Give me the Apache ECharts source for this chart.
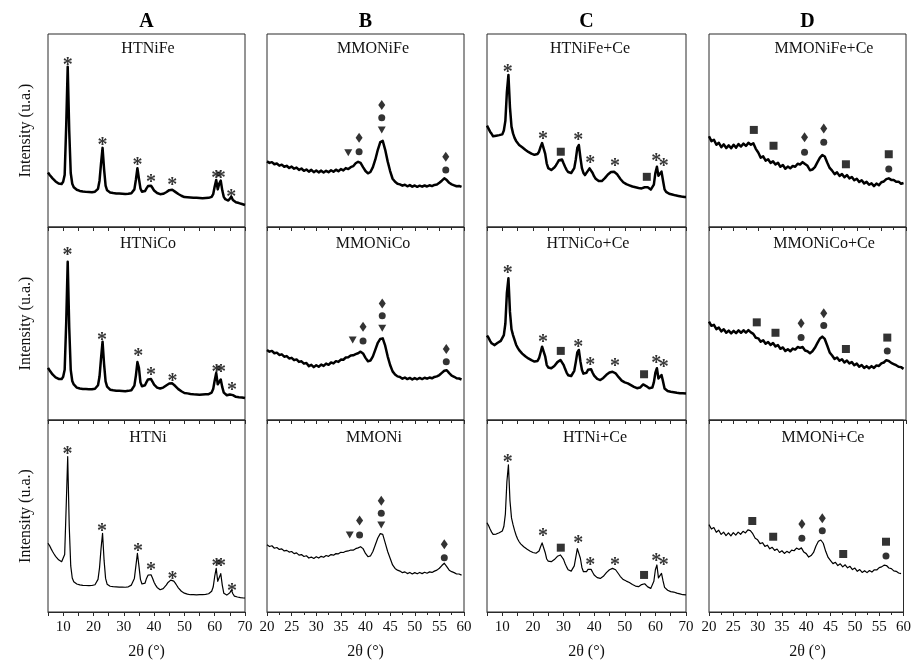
<!DOCTYPE html>
<html><head><meta charset="utf-8">
<script src="https://cdn.jsdelivr.net/npm/echarts@6/dist/echarts.min.js"></script>
<style>html,body{margin:0;padding:0;background:#fff}#c{width:914px;height:662px}</style>
</head><body><div id="c"></div>
<script>
// ---- 2θ sampling grids ----
const X_HT = [5,5.5,6,6.5,7,7.5,8,8.5,9,9.5,10,10.5,11,11.5,12,12.5,13,13.5,14,14.5,15,15.5,16,16.5,17,17.5,18,18.5,19,19.5,20,20.5,21,21.5,22,22.5,23,23.5,24,24.5,25,25.5,26,26.5,27,27.5,28,28.5,29,29.5,30,30.5,31,31.5,32,32.5,33,33.5,34,34.5,35,35.5,36,36.5,37,37.5,38,38.5,39,39.5,40,40.5,41,41.5,42,42.5,43,43.5,44,44.5,45,45.5,46,46.5,47,47.5,48,48.5,49,49.5,50,50.5,51,51.5,52,52.5,53,53.5,54,54.5,55,55.5,56,56.5,57,57.5,58,58.5,59,59.5,60,60.5,61,61.5,62,62.5,63,63.5,64,64.5,65,65.5,66,66.5,67,67.5,68,68.5,69,69.5,70];
const X_MMO = [20,20.5,21,21.5,22,22.5,23,23.5,24,24.5,25,25.5,26,26.5,27,27.5,28,28.5,29,29.5,30,30.5,31,31.5,32,32.5,33,33.5,34,34.5,35,35.5,36,36.5,37,37.5,38,38.5,39,39.5,40,40.5,41,41.5,42,42.5,43,43.5,44,44.5,45,45.5,46,46.5,47,47.5,48,48.5,49,49.5,50,50.5,51,51.5,52,52.5,53,53.5,54,54.5,55,55.5,56,56.5,57,57.5,58,58.5,59,59.5];

// ---- intensities (a.u., 0-100 of panel) ----
const HTNiFe = [28.2,27.1,26.4,25.2,24.8,23.6,23.3,22.5,22.9,22.3, 23.4,27,52,83,50,28,22.4,20.6,20.1,19.3, 19.6,18.7,19.1,18.4,18.9,18.2,18.8,18.1,18.6,18, 18.5,18.3,18.9,19.8,24,33,41,30,21.5,19, 18.6,17.9,18.3,17.6,18,17.4,17.9,17.3,17.8,17.2, 17.7,17.1,17.6,17.2,17.8,17.5,18.2,19.5,24.5,30.5, 25,20,18.3,17.8,18.6,20,21.2,21.9,21.4,20.2, 18.9,18.3,17.6,17.4,17,17.3,17.2,17.7,18,18.6, 19.1,19.4,19.3,18.8,18.2,17.6,17.1,16.5,16.2,15.6, 15.5,15.1,15.4,14.9,15.3,14.8,15.2,14.7,15.1,14.6, 15,14.5,14.9,14.6,15,14.7,15.1,15,15.6,17, 21,24.4,19.5,22.5,24,19,15.6,14.4,14,13.7, 14.4,15.6,14,13.1,12.8,12.5,12.4,12,11.9,11.6, 11.4];
const HTNiCo = [27,25.8,24.9,23.6,23.2,22.1,22,21.3,21.8,21.2, 22.4,26,50,82,48,26,20.2,18.4,17.6,16.8, 17.1,16.3,16.8,16.1,16.7,16,16.6,15.9,16.5,15.9, 16.4,16.2,16.9,18,22.5,32,40.6,29,20,17.3, 16.5,15.7,16.1,15.4,15.9,15.2,15.8,15.1,15.6,15, 15.5,14.9,15.5,15.1,15.7,15.4,16.2,17.8,23,30, 27,19.5,17.5,17.1,18,19.6,21,21.8,21.2,19.8, 18.3,17.5,16.8,16.6,16.3,16.6,16.8,17.3,17.9,18.5, 18.9,19.1,19,18.4,17.6,16.8,16,15.3,14.9,14.2, 14,13.5,13.8,13.2,13.5,12.9,13.3,12.8,13.2,12.7, 13.1,12.8,13.2,12.9,13.3,13,13.4,13.5,14.2,16, 20.5,24.4,18.5,19.5,21,17,14.2,13.3,12.8,12.6, 13.2,14,12.9,12.2,12,11.9,11.8,11.6,11.7,11.5, 11.4];
const HTNi = [35.8,34.6,33,31.5,30.2,29,28,27.2,26.6,26.2, 26.5,30,55,80.9,45,24,17.7,15.8,15,14.6, 14.4,14.1,14.2,13.9,14.1,13.8,14,13.7,13.9,13.8, 14,14.2,15,17,23,33,41,27,17.5,14.5, 13.8,13.4,13.5,13.2,13.4,13.1,13.3,13,13.2,13, 13.2,12.9,13.2,13.1,13.5,14,15,17.5,24,30.6, 24,17,14.6,14,15,17.5,19.2,20,19.4,17.6, 15.5,14,12.8,12,11.6,11.8,12.2,13,14,15.2, 16.1,16.6,16.7,16.1,15,13.8,12.6,11.6,10.8,10.2, 9.8,9.5,9.3,9.1,9,8.9,9,8.8,8.9,8.8, 9,8.9,9.1,9,9.2,9.3,9.5,9.9,10.8,13, 18.5,22.7,16,18,20,14,9.8,9,8.8,9, 10,11.5,9.5,8.3,8,7.8,7.7,7.5,7.4,7.3, 7.3];
const HTNiFe_Ce = [52.5,51,49.4,48.3,47,46.6,47.3,46.8,47.6,47.2, 48,50,55,70,78.8,62,52,48.5,46.2,44.6, 43.7,42.5,42.4,41.3,41,40,40.1,38.9,39,38, 38.3,37.4,37.8,37.8,39,41.5,43.5,44.2,38,33, 30.5,29.8,29.5,30.2,30.8,31.9,33.2,34.6,35.6,35, 33,31.2,29.6,28.5,27.8,28,28.8,30.5,35,41, 42.5,36,30.5,28,26.9,27.8,29.2,30.4,30,28, 26.2,25,24.2,23.8,23.5,23.8,24.5,25.3,26.2,27.2, 28,28.5,28.7,28.6,28.2,27.3,26.2,25,24,23.2, 22.6,22.2,21.8,21.6,21.3,21,20.8,20.6,20.5,20.2, 20.1,20,20.3,20.6,20.8,20.6,20,19.4,19.6,22, 28,31.2,26.5,27.5,28.7,24,19.5,18.2,17.6,17.2, 16.9,16.8,16.6,16.4,16.3,16.1,16,15.8,15.7,15.6, 15.6];
const HTNiCo_Ce = [43.8,42.6,41,39.8,39,38.8,39.6,40,40.6,41, 41.8,44,50,66,73.4,56,47,44,41.5,39, 37.5,36.2,35.2,34.4,33.6,33,32.5,31.9,31.5,31, 30.8,30.3,30.3,30.6,32,35,38,38.9,33,28.6, 27.2,26.9,26.8,27.3,28,29,30,30.8,31.1,30.5, 28.6,26.5,24.6,23.2,22.6,22.8,23.8,25.5,30,35, 36.3,30.5,26,24,23.3,24.5,26,26.8,26.3,24.5, 23,22,21.3,20.9,20.7,21.2,21.8,22.6,23.4,24.1, 24.6,25,25,24.8,24.2,23.3,22.2,21.2,20.4,19.9, 19.5,19.2,19,18.6,18.1,17.6,17.2,16.8,16.5,16.4, 16.8,17.6,18.4,18.3,17.6,17,16.5,16.4,16.8,19.5, 24.5,26.8,21.5,22.2,23.3,20,16.3,15.4,15,14.8, 14.6,14.5,14.4,14.3,14.1,14,13.9,13.9,13.8,13.7, 13.7];
const HTNi_Ce = [46.5,45,43.2,41.6,40.4,40.1,40.6,41,41.3,41.6, 42.2,44.5,51,68,76.6,58,49,45.5,42.5,40, 38,36.6,35.5,34.8,34,33.4,32.8,32.3,31.8,31.4, 31,30.7,30.6,30.8,31.8,34,36,36.6,31,27.6, 26.5,26.2,26.2,26.6,27.3,28.2,29,29.6,29.7,29, 27.4,25.3,23.5,22,21.2,21.3,22.3,24,28.5,33, 34,28,23.2,21,20.1,21,22.2,22.7,22.2,20.7, 19.3,18.5,17.9,17.6,17.5,17.9,18.6,19.5,20.5,21.4, 22,22.5,22.7,22.6,22,21,19.8,18.6,17.6,16.9, 16.4,16.1,15.8,15.4,14.8,14.3,13.9,13.5,13.3,13.2, 13.6,14.3,14.9,14.7,13.9,13.1,12.5,12.3,13,16, 22,24.5,17.8,18.8,20.1,16.2,12.8,11.9,11.3,10.9, 10.6,10.5,10.4,10.1,9.8,9.6,9.4,9.2,9,8.9, 8.9];
const MMONiFe = [34,33.2,33.6,32.5,32.9,31.8,32.3,31.2,31.7,30.6, 31.3,30.2,30.8,29.6,30.3,29.1,29.8,28.7,29.6,28.4, 29.3,28.3,29.2,28.2,29.1,28.4,29.4,28.6,29.7,28.9, 30,29.3,30.5,30,31,31.5,33,33.8,33.2,31, 29,27.8,28.5,31,35,40,44,44.6,40,34, 29,25,23.4,22.4,22.1,21.4,21.9,21.1,21.7,20.9, 21.5,20.8,21.4,20.9,21.5,21,21.6,21.2,21.8,22, 22.9,24,25.2,24.3,22.9,22.1,21.6,21.1,21.3,20.8];
const MMONiCo = [36.3,35.4,35.8,34.6,34.9,33.7,34,32.8,33.1,31.9, 32.2,31,31.4,30.1,30.4,29.2,29.5,27.9,28.6,27.4, 28.4,27.6,28.7,28,29.2,28.6,29.8,29.3,30.5,30.1, 31.3,31.2,32.4,32.5,33.4,33.5,34.1,34.6,35.4,34.5, 32.2,30.4,30.8,33,36.5,40,42,42.3,38.5,33, 28.5,25.2,23.6,22.6,22.3,21.4,22,21.2,21.8,21, 21.7,21.1,21.8,21.2,21.9,21.4,22,21.6,22.3,22.6, 23.3,24.4,25.5,25.8,24.3,23,22.4,21.6,21.5,21];
const MMONi = [35,34.1,34.5,33.2,33.6,32.6,32.9,31.8,32.1,31.2, 31.5,30.4,30.8,29.6,29.9,28.9,29.3,28.1,28.6,27.9, 28.8,28.1,29,28.5,29.4,29,29.9,29.6,30.4,30.3, 31.1,31,31.6,31.8,32.3,32.2,33,33.4,34,33, 30.5,28.8,29.2,31.5,35,38.5,40.8,40.4,36,31.5, 28,24.5,22.7,21.8,21.3,20.5,20.9,20,20.6,19.8, 20.5,19.9,20.6,20,20.7,20.2,20.9,20.6,21.3,21.8, 22.8,24.2,25.4,23.6,21.8,21,20.5,19.8,19.8,19.2];
const MMONiFe_Ce = [47,44.5,45.2,42.6,43.6,41.4,42.8,40.9,42.3,40.8, 42.6,41.1,43,41.7,43.2,42,43.6,42.6,43.4,40.5, 38.6,35.9,36.6,34.4,35.1,33.2,34,32.4,33.3,31.2, 32.1,30.2,31.3,30.4,31.6,31.2,32.8,32.4,33.6,32.6, 31.7,29.4,29.8,31,33.5,35.8,37.3,36.5,33.4,30.6, 29.2,27.4,28.3,26.5,27.4,25.8,26.9,25.2,25.9,24.2, 25,23.3,24.2,22.6,23.4,21.9,22.6,21.2,22.5,21.6, 23.2,23.6,24.8,25.2,24.4,24.3,23.4,23.5,22.4,22.8];
const MMONiCo_Ce = [51,48.8,49.3,47.1,47.9,45.9,47,45.2,46.3,44.9, 46.2,45,46.4,45.2,46.5,45.3,46.6,45.4,44.6,42.6, 42.3,40.6,41.3,39.5,40.4,38.9,39.9,38.1,38.8,36.9, 37.6,35.8,36.7,35.6,37,36.5,37.8,37.4,37.8,36, 35.6,34.6,35.6,37.4,39.8,42.1,43.2,42,38.6,35, 33.4,31.6,32.4,30.7,31.5,29.8,30.8,29.3,30,28.4, 29.2,27.6,28.5,27,27.9,26.8,27.9,27,28.3,28, 29.3,29.8,31,30.6,29.6,29,28.4,27.6,27.4,26.5];
const MMONi_Ce = [45.5,43.2,44,41.5,42.6,40.4,41.6,39.8,41.2,39.6, 41.3,40,41.6,40.5,42,41.2,42.8,42.4,40.8,38.4, 37.6,35.6,36.1,34.2,34.8,32.9,33.7,32.1,32.8,31, 31.9,30.5,31.6,30.8,32.2,31.9,33.3,32.6,33.4,31.2, 30.4,28.6,29.4,31,34.4,36.8,37.5,35.8,31.6,28.4, 26.8,25.2,25.9,24.2,25.1,23.5,24.6,23,23.8,22.1, 22.9,21.2,22.1,20.6,21.5,20.5,21.6,20.8,22,21.9, 23.1,23.5,24.4,24.2,22.9,22.6,21.4,21.2,20.3,20];

// ---- phase markers [2θ, height] ----
const STAR_HTNiFe = [[11.5,85.6],[23,44.2],[34.5,33.8],[39,24.9],[46,23.5],[60.5,27],[62,27],[65.5,17.1]];
const STAR_HTNiCo = [[11.4,86.9],[22.8,43.2],[34.8,34.9],[39,25],[46.1,22.1],[60.6,26.3],[62.1,26.3],[65.7,17]];
const STAR_HTNi = [[11.4,83.9],[22.8,43.6],[34.7,33.5],[39,23.6],[46.1,18.9],[60.6,25.7],[62.1,25.7],[65.7,12.7]];
const STAR_HTNiFe_Ce = [[11.8,81.7],[23.3,47.1],[34.8,46.8],[38.7,34.7],[46.8,33],[60.3,35.6],[62.7,33]];
const STAR_HTNiCo_Ce = [[11.8,77.7],[23.3,42.3],[34.8,39.7],[38.7,29.9],[46.8,29.4],[60.3,31.4],[62.7,28.9]];
const STAR_HTNi_Ce = [[11.8,80],[23.3,41],[34.8,37.5],[38.7,25.9],[46.8,25.9],[60.3,28],[62.7,25.9]];
const SQ_HTNiFe_Ce = [[29.1,39],[57.2,26]];
const SQ_HTNiCo_Ce = [[29.1,35.8],[56.3,23.7]];
const SQ_HTNi_Ce = [[29.1,33.5],[56.3,19.3]];

const TRI_MMONiFe = [[36.5,38.5],[43.3,50.3]];
const CIR_MMONiFe = [[38.7,39],[43.3,56.6],[56.3,29.5]];
const DIA_MMONiFe = [[38.7,46.3],[43.3,63.2],[56.3,36.4]];
const TRI_MMONiCo = [[37.4,41.5],[43.4,47.5]];
const CIR_MMONiCo = [[39.5,40.9],[43.4,54],[56.4,30.2]];
const DIA_MMONiCo = [[39.5,48.3],[43.4,60.4],[56.4,36.8]];
const TRI_MMONi = [[36.8,40.1],[43.2,45.3]];
const CIR_MMONi = [[38.8,40.1],[43.2,51.4],[56,28.3]];
const DIA_MMONi = [[38.8,47.6],[43.2,58],[56,35.3]];

const SQ_MMONiFe_Ce = [[29.1,50.3],[33.1,42.1],[47.8,32.5],[56.5,37.7]];
const DIA_MMONiFe_Ce = [[39.4,46.5],[43.3,51.1]];
const CIR_MMONiFe_Ce = [[39.4,38.7],[43.3,43.9],[56.5,30]];
const SQ_MMONiCo_Ce = [[29.7,50.6],[33.5,45.2],[47.8,36.8],[56.2,42.7]];
const DIA_MMONiCo_Ce = [[38.7,50.1],[43.3,55.3]];
const CIR_MMONiCo_Ce = [[38.7,42.7],[43.3,48.9],[56.2,35.8]];
const SQ_MMONi_Ce = [[28.9,47.4],[33.2,39.2],[47.6,30.2],[56.4,36.6]];
const DIA_MMONi_Ce = [[39.1,45.8],[43.3,48.8]];
const CIR_MMONi_Ce = [[39.1,38.4],[43.3,42.3],[56.4,29.2]];

const COL_TITLES = ['A','B','C','D'];
const X_RANGES = [[5,70],[20,60],[5,70],[20,60]];
const Y_TITLE = 'Intensity (u.a.)';
const X_TITLE = '2θ (°)';

// ---- layout ----
const COLS = [{l:48,w:197},{l:267,w:197},{l:487,w:199},{l:709,w:197}];
const ROWS = [{t:34,h:193,ly:49},{t:227,h:193,ly:244},{t:420,h:192,ly:438}];

const PANELS = [
 {c:0,r:0,x:X_HT,y:HTNiFe,name:'HTNiFe',lx:148,star:STAR_HTNiFe},
 {c:1,r:0,x:X_MMO,y:MMONiFe,name:'MMONiFe',lx:373,tri:TRI_MMONiFe,cir:CIR_MMONiFe,dia:DIA_MMONiFe},
 {c:2,r:0,x:X_HT,y:HTNiFe_Ce,name:'HTNiFe+Ce',lx:590,star:STAR_HTNiFe_Ce,sq:SQ_HTNiFe_Ce},
 {c:3,r:0,x:X_MMO,y:MMONiFe_Ce,name:'MMONiFe+Ce',lx:824,sq:SQ_MMONiFe_Ce,dia:DIA_MMONiFe_Ce,cir:CIR_MMONiFe_Ce},
 {c:0,r:1,x:X_HT,y:HTNiCo,name:'HTNiCo',lx:148,star:STAR_HTNiCo},
 {c:1,r:1,x:X_MMO,y:MMONiCo,name:'MMONiCo',lx:373,tri:TRI_MMONiCo,cir:CIR_MMONiCo,dia:DIA_MMONiCo},
 {c:2,r:1,x:X_HT,y:HTNiCo_Ce,name:'HTNiCo+Ce',lx:588,star:STAR_HTNiCo_Ce,sq:SQ_HTNiCo_Ce},
 {c:3,r:1,x:X_MMO,y:MMONiCo_Ce,name:'MMONiCo+Ce',lx:824,sq:SQ_MMONiCo_Ce,dia:DIA_MMONiCo_Ce,cir:CIR_MMONiCo_Ce},
 {c:0,r:2,x:X_HT,y:HTNi,name:'HTNi',lx:148,star:STAR_HTNi},
 {c:1,r:2,x:X_MMO,y:MMONi,name:'MMONi',lx:374,tri:TRI_MMONi,cir:CIR_MMONi,dia:DIA_MMONi},
 {c:2,r:2,x:X_HT,y:HTNi_Ce,name:'HTNi+Ce',lx:595,star:STAR_HTNi_Ce,sq:SQ_HTNi_Ce},
 {c:3,r:2,x:X_MMO,y:MMONi_Ce,name:'MMONi+Ce',lx:823,sq:SQ_MMONi_Ce,dia:DIA_MMONi_Ce,cir:CIR_MMONi_Ce}
];

const FONT = 'Liberation Serif, Times New Roman, serif';
const grids=[], xAxes=[], yAxes=[], series=[], graphics=[];

PANELS.forEach((p,i)=>{
  const C=COLS[p.c], R=ROWS[p.r];
  const wide = X_RANGES[p.c][0]===5;
  grids.push({left:C.l, top:R.t, width:C.w, height:R.h, show:true, borderColor:'#2a2a2a', borderWidth:1, backgroundColor:'rgba(0,0,0,0)'});
  xAxes.push({type:'value', gridIndex:i, min:X_RANGES[p.c][0], max:X_RANGES[p.c][1], interval:5,
    axisLine:{show:true, onZero:false, lineStyle:{color:'#2a2a2a', width:1}},
    axisTick:{show:true, inside:false, length:4, lineStyle:{color:'#2a2a2a'}},
    minorTick:{show:!wide, splitNumber:2, length:3, lineStyle:{color:'#2a2a2a'}},
    splitLine:{show:false}, minorSplitLine:{show:false},
    axisLabel:{show:p.r===2, margin:8, fontFamily:FONT, fontSize:15, color:'#111', showMinLabel:true, showMaxLabel:true,
      formatter:(v)=> wide ? (v%10===0 ? String(v) : '') : String(v)}
  });
  yAxes.push({type:'value', gridIndex:i, min:0, max:100, show:false});
  series.push({type:'line', xAxisIndex:i, yAxisIndex:i, data:p.x.map((x,k)=>[x,p.y[k]]),
    showSymbol:false, symbol:'none', silent:true, animation:false,
    lineStyle:{color:'#000', width:p.r<2?2.5:1.2, join:'round'}});
  const mk=(arr,symbol,size,rot)=>{ if(!arr) return; series.push({type:'scatter', xAxisIndex:i, yAxisIndex:i, data:arr,
      symbol:symbol, symbolSize:size, symbolRotate:rot||0, itemStyle:{color:'#000'}, silent:true, animation:false, z:5}); };
  mk(p.sq,'rect',8);
  mk(p.tri,'triangle',[8,7],180);
  mk(p.cir,'circle',7);
  mk(p.dia,'diamond',[7,10]);
  if(p.star){
    series.push({type:'scatter', xAxisIndex:i, yAxisIndex:i, data:p.star, symbolSize:1,
      itemStyle:{color:'rgba(0,0,0,0)'}, silent:true, animation:false, z:6,
      label:{show:true, position:'inside', formatter:'*', fontFamily:FONT, fontSize:20, fontWeight:'bold', color:'#000', offset:[0,4]}});
  }
  graphics.push({type:'text', x:p.lx, y:R.ly, silent:true,
    style:{text:p.name, font:'16px '+FONT, fill:'#111', textAlign:'center', textVerticalAlign:'middle'}});
});

COLS.forEach((C,c)=>{
  graphics.push({type:'text', x:C.l+C.w/2, y:22, silent:true,
    style:{text:COL_TITLES[c], font:'bold 20px '+FONT, fill:'#000', textAlign:'center', textVerticalAlign:'middle'}});
  graphics.push({type:'text', x:C.l+C.w/2, y:652, silent:true,
    style:{text:X_TITLE, font:'16px '+FONT, fill:'#111', textAlign:'center', textVerticalAlign:'middle'}});
});
ROWS.forEach(R=>{
  graphics.push({type:'text', x:26, y:R.t+R.h/2, rotation:Math.PI/2, silent:true,
    style:{text:Y_TITLE, font:'16px '+FONT, fill:'#111', textAlign:'center', textVerticalAlign:'middle'}});
});

const chart = echarts.init(document.getElementById('c'), null, {renderer:'canvas'});
chart.setOption({animation:false, backgroundColor:'#fff', grid:grids, xAxis:xAxes, yAxis:yAxes, series:series, graphic:graphics});
</script></body></html>
